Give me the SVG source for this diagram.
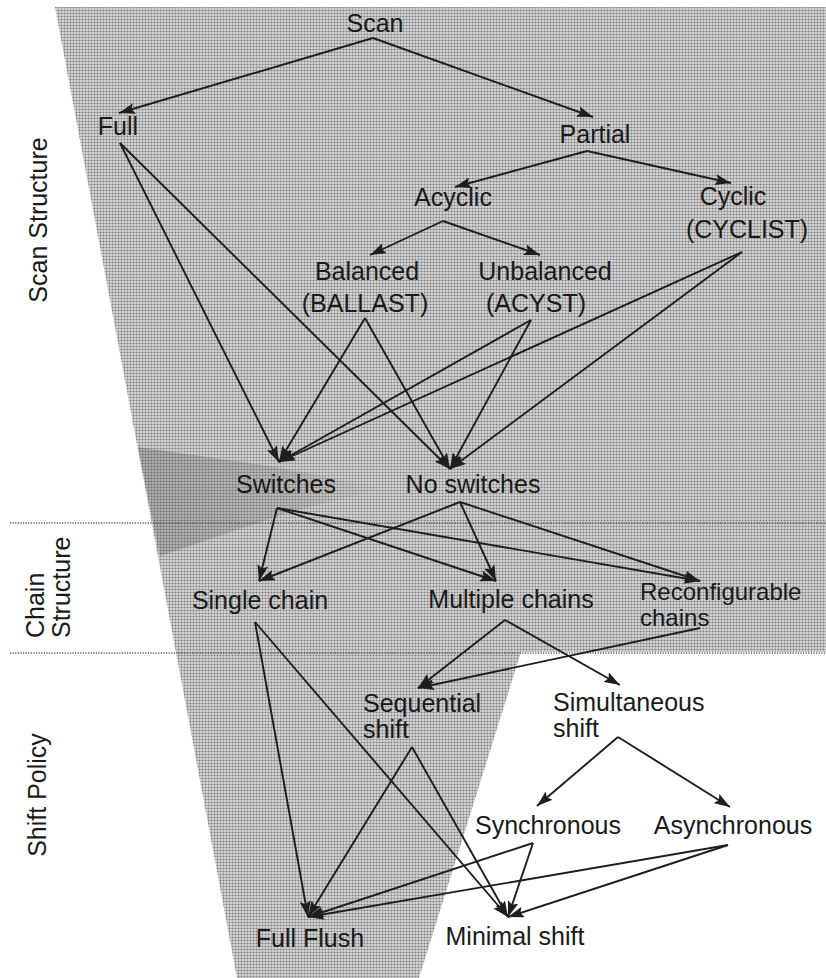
<svg xmlns="http://www.w3.org/2000/svg" width="826" height="978" viewBox="0 0 826 978">
<style>
text{font-family:"Liberation Sans",Arial,Helvetica,sans-serif;font-size:25px;fill:#1a1a1a}
.m{text-anchor:middle}
.e line{stroke:#1e1e1e;stroke-width:1.9;marker-end:url(#ah)}
.dot{stroke:#5a5a5a;stroke-width:1.6;stroke-dasharray:1.2 1.4;fill:none}
</style>
<defs>
<pattern id="ht" width="3" height="3" patternUnits="userSpaceOnUse">
<rect width="3" height="3" fill="#d8d8d8"/>
<circle cx="1.5" cy="1.5" r="1.05" fill="#7e7e7e"/>
</pattern>
<linearGradient id="wg" x1="138" y1="0" x2="385" y2="0" gradientUnits="userSpaceOnUse">
<stop offset="0" stop-color="#3a3a3a" stop-opacity="0.26"/>
<stop offset="0.6" stop-color="#3a3a3a" stop-opacity="0.15"/>
<stop offset="1" stop-color="#3a3a3a" stop-opacity="0"/>
</linearGradient>
<marker id="ah" markerUnits="userSpaceOnUse" markerWidth="17" markerHeight="11" refX="16" refY="5.5" orient="auto">
<path d="M0,0 L16,5.5 L0,11 L3,5.5 z" fill="#1e1e1e"/>
</marker>
</defs>

<g id="background">
<polygon points="55,7 826,7 826,652 521,652 419,978 237,978" fill="url(#ht)"/>
<polygon points="138,447 270,466 385,488 290,512 160,556" fill="url(#wg)"/>
<line class="dot" x1="10" y1="523" x2="826" y2="523"/>
<line class="dot" x1="10" y1="653" x2="826" y2="653"/>
</g>

<g id="band-labels">
<text id="lbl-scan" class="m" transform="translate(47,220) rotate(-90)">Scan Structure</text>
<text id="lbl-chain" transform="translate(44,638) rotate(-90)">Chain</text>
<text id="lbl-chain2" transform="translate(70,638) rotate(-90)">Structure</text>
<text id="lbl-shift" class="m" transform="translate(46,795) rotate(-90)">Shift Policy</text>
</g>

<g id="connectors" class="e">
<line x1="373" y1="38" x2="119" y2="113"/>
<line x1="373" y1="38" x2="593" y2="117"/>
<line x1="587" y1="151" x2="455" y2="187"/>
<line x1="587" y1="151" x2="731" y2="183"/>
<line x1="443" y1="221" x2="370" y2="255"/>
<line x1="443" y1="221" x2="540" y2="255"/>
<line x1="120" y1="143" x2="279" y2="462"/>
<line x1="120" y1="143" x2="450" y2="469"/>
<line x1="365" y1="318" x2="279" y2="462"/>
<line x1="365" y1="318" x2="450" y2="469"/>
<line x1="531" y1="320" x2="279" y2="462"/>
<line x1="531" y1="320" x2="450" y2="469"/>
<line x1="742" y1="252" x2="279" y2="462"/>
<line x1="742" y1="252" x2="450" y2="469"/>
<line x1="277" y1="508" x2="259" y2="581"/>
<line x1="277" y1="508" x2="496" y2="581"/>
<line x1="277" y1="508" x2="700" y2="581"/>
<line x1="460" y1="502" x2="259" y2="581"/>
<line x1="460" y1="502" x2="496" y2="581"/>
<line x1="460" y1="502" x2="700" y2="581"/>
<line x1="255" y1="622" x2="308" y2="917"/>
<line x1="255" y1="622" x2="508" y2="917"/>
<line x1="505" y1="620" x2="418" y2="688"/>
<line x1="505" y1="620" x2="620" y2="685"/>
<line x1="700" y1="628" x2="418" y2="688"/>
<line x1="412" y1="747" x2="308" y2="917"/>
<line x1="412" y1="747" x2="508" y2="917"/>
<line x1="618" y1="737" x2="537" y2="806"/>
<line x1="618" y1="737" x2="730" y2="807"/>
<line x1="533" y1="843" x2="308" y2="917"/>
<line x1="533" y1="843" x2="508" y2="917"/>
<line x1="728" y1="845" x2="308" y2="917"/>
<line x1="728" y1="845" x2="508" y2="917"/>
</g>

<g id="scan"><text class="m" x="375" y="32">Scan</text></g>
<g id="full"><text class="m" x="118" y="135">Full</text></g>
<g id="partial"><text class="m" x="595" y="143">Partial</text></g>
<g id="acyclic"><text class="m" x="453" y="206">Acyclic</text></g>
<g id="cyclic"><text class="m" x="733" y="205">Cyclic</text><text class="m" x="747" y="238">(CYCLIST)</text></g>
<g id="balanced"><text class="m" x="367" y="280">Balanced</text><text class="m" x="365" y="312">(BALLAST)</text></g>
<g id="unbalanced"><text class="m" x="545" y="280">Unbalanced</text><text class="m" x="536" y="312">(ACYST)</text></g>
<g id="switches"><text class="m" x="286" y="493">Switches</text></g>
<g id="no-switches"><text class="m" x="473" y="493">No switches</text></g>
<g id="single-chain"><text class="m" x="260" y="609">Single chain</text></g>
<g id="multiple-chains"><text class="m" x="511" y="608">Multiple chains</text></g>
<g id="reconfigurable-chains"><text x="640" y="600" style="font-size:24px">Reconfigurable</text><text x="640" y="626" style="font-size:24px">chains</text></g>
<g id="sequential-shift"><text x="363" y="712">Sequential</text><text x="363" y="738">shift</text></g>
<g id="simultaneous-shift"><text x="553" y="711">Simultaneous</text><text x="553" y="737">shift</text></g>
<g id="synchronous"><text class="m" x="548" y="834">Synchronous</text></g>
<g id="asynchronous"><text class="m" x="733" y="834">Asynchronous</text></g>
<g id="full-flush"><text class="m" x="310" y="947">Full Flush</text></g>
<g id="minimal-shift"><text class="m" x="515" y="945">Minimal shift</text></g>
</svg>
